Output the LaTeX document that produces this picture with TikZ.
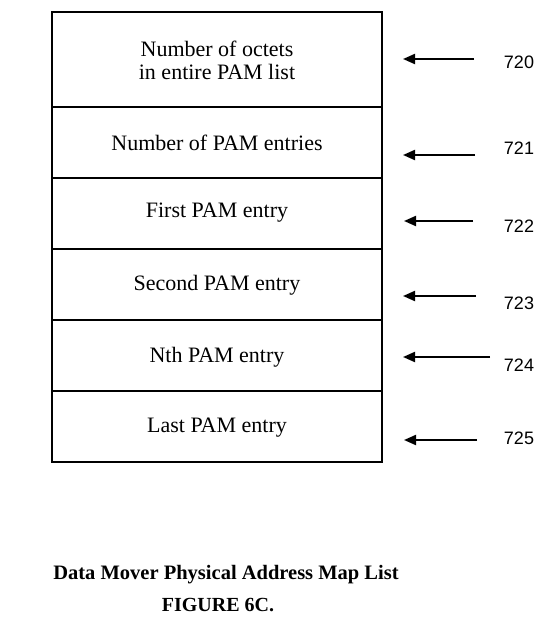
\documentclass[tikz,border=0pt]{standalone}
\usepackage{fontspec}
\setmainfont{Liberation Serif}
\newfontfamily\labelfont{Liberation Sans}
\usetikzlibrary{arrows.meta}
\begin{document}
\begin{tikzpicture}[x=1pt,y=-1pt,
  cell/.style={font=\fontsize{22}{23}\selectfont, align=center},
  ref/.style={font=\labelfont\fontsize{18}{20}\selectfont},
  pointer/.style={line width=2pt, -{Triangle[length=12pt,width=10pt]}},
  frame/.style={line width=1.3pt}]
\useasboundingbox (0,0) rectangle (542,629);
% boxes
\coordinate (tl) at (52,12);
\coordinate (br) at (382,462);
\draw[frame] (tl) rectangle (br);
\foreach \y in {107,178,249,320,391} \draw[frame] (52,\y) -- (382,\y);
% texts
\node[cell] (c0) at (217,60) {Number of octets\\in entire PAM list};
\node[cell] (c1) at (217,143) {Number of PAM entries};
\node[cell] (c2) at (217,213) {First PAM entry};
\node[cell] (c3) at (217,285) {Second PAM entry};
\node[cell] (c4) at (217,357) {Nth PAM entry};
\node[cell] (c5) at (217,428) {Last PAM entry};
% arrows
\coordinate (s0) at (474,59);  \coordinate (e0) at (403,59);
\coordinate (s1) at (475,155); \coordinate (e1) at (403,155);
\coordinate (s2) at (473,221); \coordinate (e2) at (404,221);
\coordinate (s3) at (476,296); \coordinate (e3) at (403,296);
\coordinate (s4) at (490,357); \coordinate (e4) at (403,357);
\coordinate (s5) at (477,440); \coordinate (e5) at (404,440);
\foreach \i in {0,...,5} \draw[pointer] (s\i) -- (e\i);
\node[ref] (r0) at (519,62) {720};
\node[ref] (r1) at (519,148) {721};
\node[ref] (r2) at (519,226) {722};
\node[ref] (r3) at (519,303) {723};
\node[ref] (r4) at (519,365) {724};
\node[ref] (r5) at (519,438) {725};
% caption
\node[font=\fontsize{20.5}{22}\selectfont\bfseries] (cap1) at (226,575) {Data Mover Physical Address Map List};
\node[font=\fontsize{20}{22}\selectfont\bfseries] (cap2) at (218,605) {FIGURE 6C.};
\end{tikzpicture}
\end{document}
